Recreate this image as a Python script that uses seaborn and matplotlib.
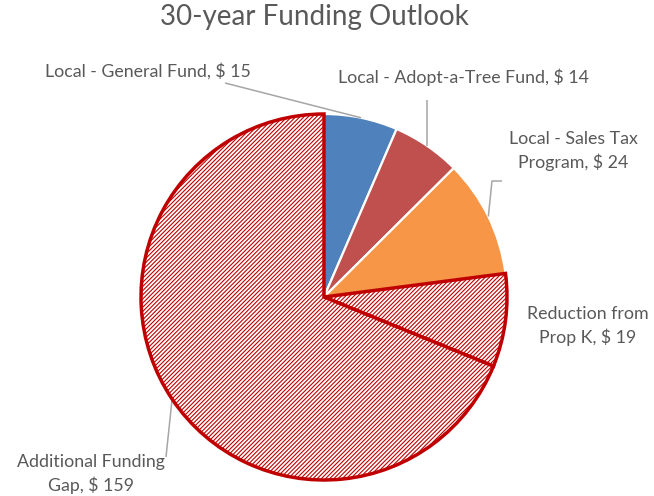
import numpy as np
import matplotlib
matplotlib.use("Agg")
import matplotlib.pyplot as plt
import seaborn as sns

# Funding sources (millions of dollars) over the 30-year horizon
sources = [
    "Local - General Fund",
    "Local - Adopt-a-Tree Fund",
    "Local - Sales Tax\nProgram",
    "Reduction from\nProp K",
    "Additional Funding\nGap",
]
amounts = [15, 14, 24, 19, 159]
fill_colors = ["#4F81BD", "#C0504D", "#F79646", "white", "white"]
is_gap = [False, False, False, True, True]

sns.set_theme(style="white")
plt.rcParams["font.family"] = ["Lato", "DejaVu Sans"]
plt.rcParams["hatch.linewidth"] = 0.8

TEXT = "#595959"
LEADER = "#A6A6A6"
GAP_RED = "#C00000"

W, H = 654, 496
CX, CY, R = 324, 297, 183  # pie centre and radius in pixels


def px(x, y):
    """Pixel position (from top-left) to data coordinates of the pie axes."""
    return (x - CX) / R, (CY - y) / R


fig = plt.figure(figsize=(W / 100, H / 100), dpi=100)
ax = fig.add_axes([0, 0, 1, 1])

wedges, _ = ax.pie(
    amounts,
    colors=fill_colors,
    startangle=90,
    counterclock=False,
    radius=1.0,
    wedgeprops=dict(edgecolor="white", linewidth=1.6),
)
for w, gap in zip(wedges, is_gap):
    if gap:
        w.set_edgecolor(GAP_RED)
        w.set_linewidth(2.5)
        w.set_hatch("////////")
        w.set_zorder(3)

ax.set_xlim(-CX / R, (W - CX) / R)
ax.set_ylim(-(H - CY) / R, CY / R)
ax.set_aspect("auto")
ax.axis("off")


def rim(w, r=1.0):
    mid = np.deg2rad((w.theta1 + w.theta2) / 2)
    return r * np.cos(mid), r * np.sin(mid)


# label centres (pixels) and leader-line anchor points (pixels) for each slice
label_pos = [(148, 71), (463, 77), (573, 151), (588, 326), (91, 474)]
leader_from = [
    [(225, 83)],
    [(427, 100)],
    [(502, 181), (492, 181)],
    [],
    [(166, 457)],
]

for w, name, val, (lx, ly), pts in zip(wedges, sources, amounts, label_pos, leader_from):
    if pts:
        xs = [px(*p)[0] for p in pts]
        ys = [px(*p)[1] for p in pts]
        ex, ey = rim(w)
        if len(pts) == 1 and pts[0][0] == 427:
            xs[0] = ex
        xs.append(ex)
        ys.append(ey)
        ax.plot(xs, ys, color=LEADER, lw=1.1, solid_capstyle="butt", zorder=1)
    tx, ty = px(lx, ly)
    ax.text(tx, ty, f"{name}, $ {val}", ha="center", va="center",
            fontsize=12.8, color=TEXT, linespacing=1.4)

fig.text(314 / W, 1 - 17 / H, "30-year Funding Outlook", ha="center", va="center",
         fontsize=20, color=TEXT)

fig.savefig("out.png", dpi=100)
